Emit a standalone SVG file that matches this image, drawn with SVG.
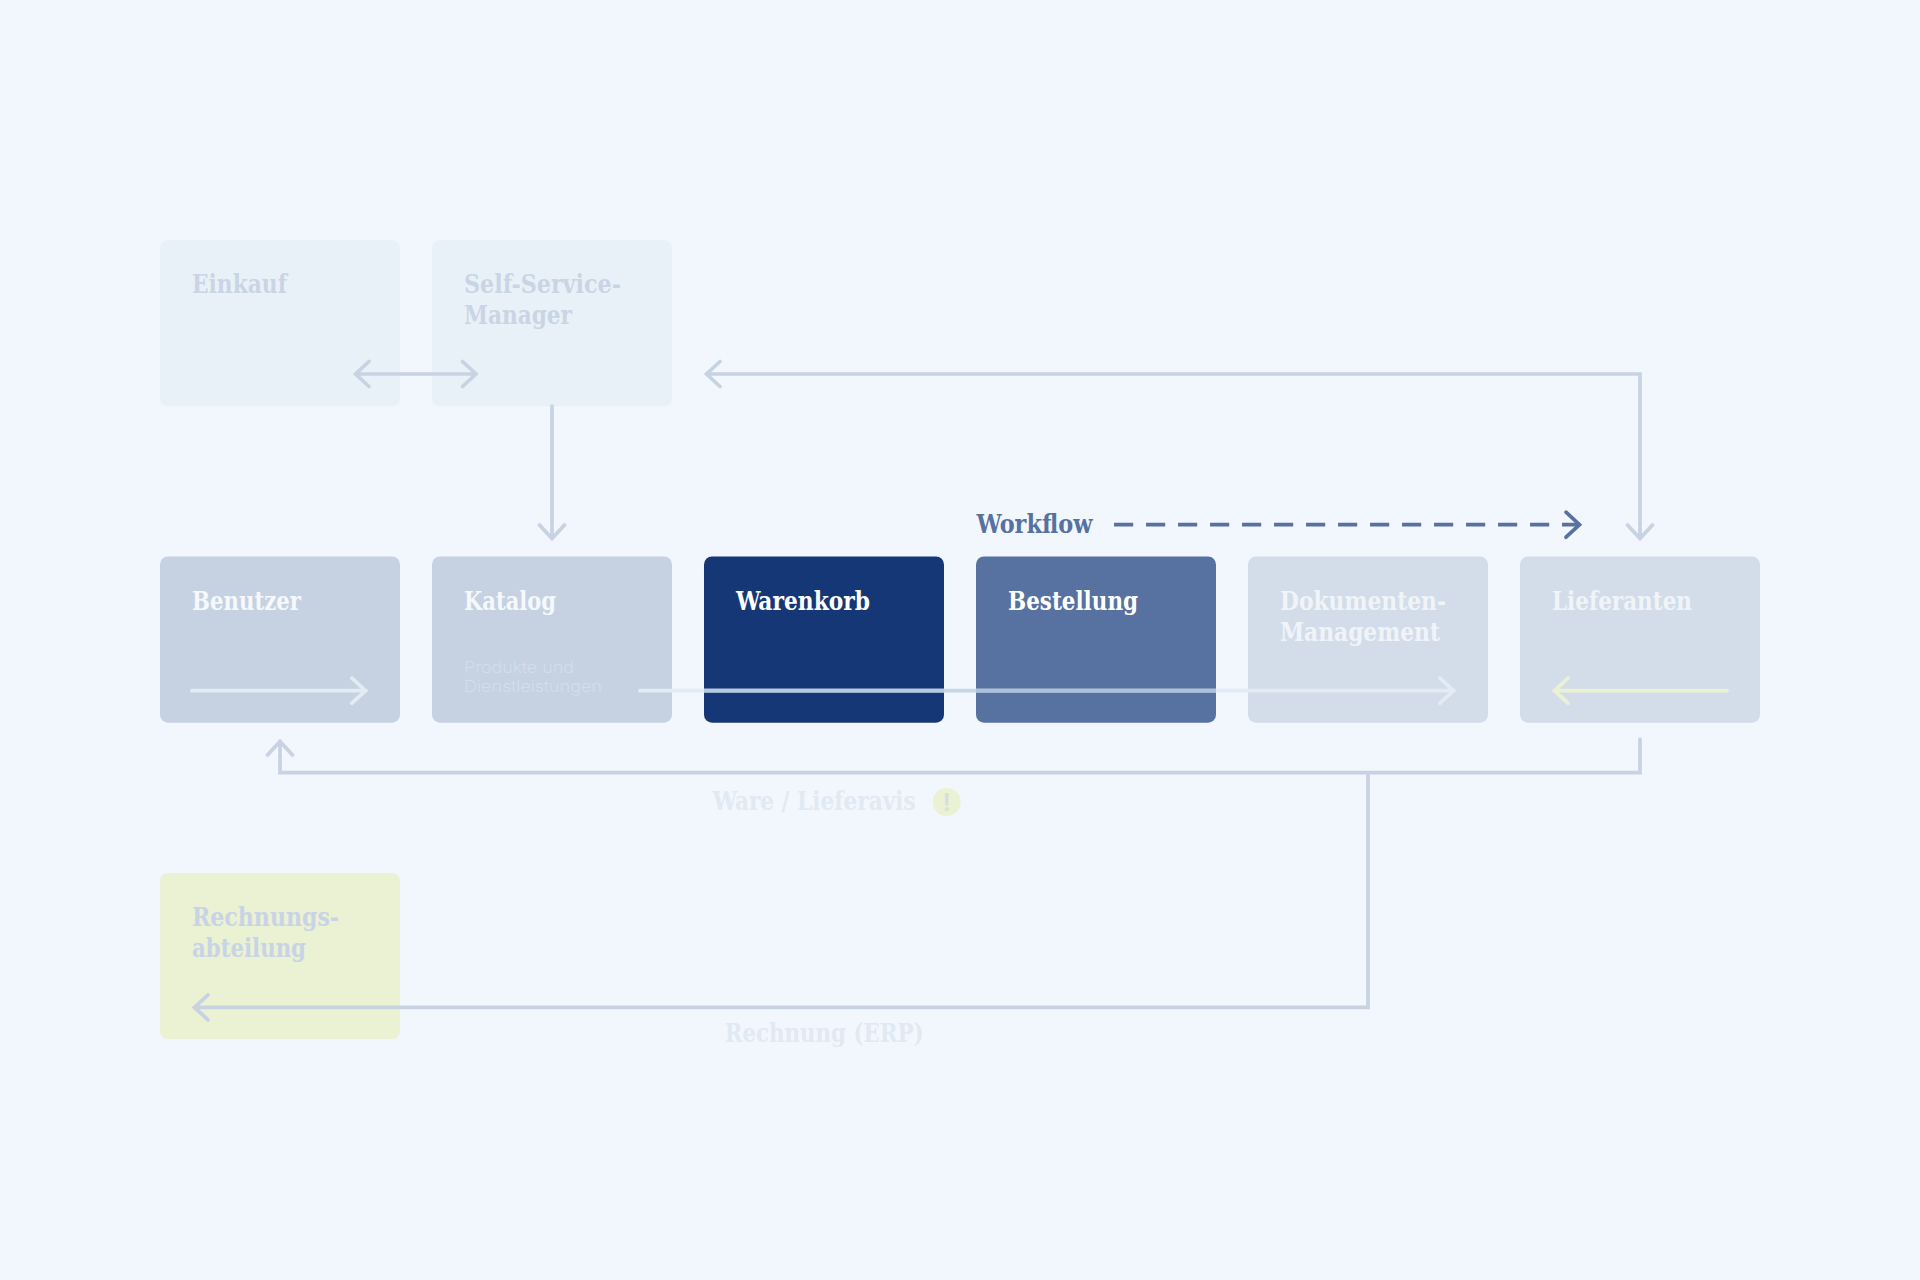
<svg xmlns="http://www.w3.org/2000/svg" width="1920" height="1280" viewBox="0 0 1920 1280">
<style>
.box{rx:8px;ry:8px}
.t{font-family:"DejaVu Serif","Liberation Serif",serif;font-stretch:condensed;font-weight:700;font-size:26.67px}
.sub{font-family:"Inter","Noto Sans",sans-serif;font-weight:200;font-size:16.5px;fill:#d7e1ec}
.ln{fill:none;stroke-width:3.7;stroke-linejoin:miter;stroke-linecap:round}
.g{stroke:#c7d2e3}
.w{stroke:#e3ebf4}
.d{stroke:#5771a0}
.y{stroke:#ebf1d3}
</style>
<rect width="1920" height="1280" fill="#f2f7fe"/>
<g id="node-einkauf"><rect class="box" x="160" y="240" width="240" height="166.3" fill="#e9f1f8"/><text class="t" x="192" y="293.3" fill="#c9d5e5" textLength="95" lengthAdjust="spacingAndGlyphs">Einkauf</text></g>
<g id="node-self-service"><rect class="box" x="432" y="240" width="240" height="166.3" fill="#e9f1f8"/><text class="t" x="464" y="293.3" fill="#c9d5e5" textLength="157" lengthAdjust="spacingAndGlyphs">Self-Service-</text><text class="t" x="464" y="324" fill="#c9d5e5" textLength="108" lengthAdjust="spacingAndGlyphs">Manager</text></g>
<g id="node-benutzer"><rect class="box" x="160" y="556.4" width="240" height="166.3" fill="#c6d2e2"/><text class="t" x="192" y="610" fill="#f5f8fc" textLength="109" lengthAdjust="spacingAndGlyphs">Benutzer</text></g>
<g id="node-katalog"><rect class="box" x="432" y="556.4" width="240" height="166.3" fill="#c6d2e2"/><text class="t" x="464" y="610" fill="#f5f8fc" textLength="92" lengthAdjust="spacingAndGlyphs">Katalog</text><text class="sub" x="464" y="672.6" textLength="110" lengthAdjust="spacingAndGlyphs">Produkte und</text><text class="sub" x="464" y="691.6" textLength="138" lengthAdjust="spacingAndGlyphs">Dienstleistungen</text></g>
<g id="node-warenkorb"><rect class="box" x="704" y="556.4" width="240" height="166.3" fill="#163776"/><text class="t" x="736" y="610" fill="#ffffff" textLength="134" lengthAdjust="spacingAndGlyphs">Warenkorb</text></g>
<g id="node-bestellung"><rect class="box" x="976" y="556.4" width="240" height="166.3" fill="#5771a0"/><text class="t" x="1008" y="610" fill="#ffffff" textLength="130" lengthAdjust="spacingAndGlyphs">Bestellung</text></g>
<g id="node-dokumenten"><rect class="box" x="1248" y="556.4" width="240" height="166.3" fill="#d3dde9"/><text class="t" x="1280" y="610" fill="#f0f4f9" textLength="166" lengthAdjust="spacingAndGlyphs">Dokumenten-</text><text class="t" x="1280" y="640.7" fill="#f0f4f9" textLength="160" lengthAdjust="spacingAndGlyphs">Management</text></g>
<g id="node-lieferanten"><rect class="box" x="1520" y="556.4" width="240" height="166.3" fill="#d3dde9"/><text class="t" x="1552" y="610" fill="#f0f4f9" textLength="140" lengthAdjust="spacingAndGlyphs">Lieferanten</text></g>
<g id="node-rechnung"><rect class="box" x="160" y="873" width="240" height="166.3" fill="#ebf1d3"/><text class="t" x="192" y="926.3" fill="#c8d4e6" textLength="147" lengthAdjust="spacingAndGlyphs">Rechnungs-</text><text class="t" x="192" y="957.3" fill="#c8d4e6" textLength="114" lengthAdjust="spacingAndGlyphs">abteilung</text></g>
<g id="connectors">
<path class="ln g" d="M356 374H476M369 361.5L355.5 374L369 386.5M462.5 361.5L476 374L462.5 386.5"/>
<path class="ln g" d="M552 406V538M539.5 525L552 538.5L564.5 525"/>
<path class="ln g" d="M707 374H1640V538M720 361.5L706.5 374L720 386.5M1627.5 525L1640 538.5L1652.5 525"/>
<path class="ln d" style="stroke-linecap:butt" stroke-dasharray="19.2 12.8" d="M1114 524.7H1580"/>
<path class="ln d" d="M1566 512.2L1579.5 524.7L1566 537.2"/>
<path class="ln w" d="M192 690.7H366M352 678.2L365.5 690.7L352 703.2"/>
<path class="ln w" d="M640 690.7H1454M1440 678.2L1453.5 690.7L1440 703.2"/>
<path class="ln" style="stroke-linecap:butt" stroke="#b6cbe0" d="M704 690.7H944"/>
<path class="ln" style="stroke-linecap:butt" stroke="#c5d8e9" d="M944 690.7H976"/>
<path class="ln" style="stroke-linecap:butt" stroke="#abc0d9" d="M976 690.7H1216"/>
<path class="ln y" d="M1727 690.7H1554M1568 678.2L1554.5 690.7L1568 703.2"/>
<path class="ln g" d="M1640 739V772.7H280V741M267.5 755L280 741.5L292.5 755"/>
<path class="ln g" d="M1368 772.7V1007.4H195M208 994.9L194.5 1007.4L208 1019.9"/>
</g>
<g id="label-workflow"><text class="t" x="976.5" y="533" fill="#5771a0" textLength="116" lengthAdjust="spacingAndGlyphs">Workflow</text></g>
<g id="label-ware"><text class="t" x="712.7" y="809.8" fill="#e1e9f3" textLength="203" lengthAdjust="spacingAndGlyphs">Ware / Lieferavis</text><circle cx="946.7" cy="802" r="14" fill="#ebf1d3"/><text x="946.7" y="811" fill="#d5dfe0" text-anchor="middle" font-family="Liberation Sans,sans-serif" font-weight="700" font-size="25">!</text></g>
<g id="label-rechnung"><text class="t" x="724.7" y="1042" fill="#e1e9f3" textLength="199" lengthAdjust="spacingAndGlyphs">Rechnung (ERP)</text></g>
</svg>
